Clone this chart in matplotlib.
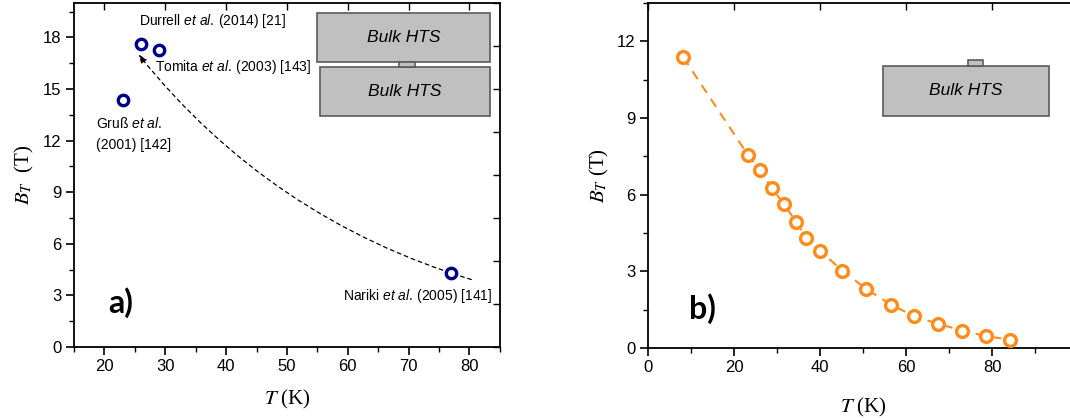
import matplotlib
matplotlib.use("Agg")
import matplotlib.pyplot as plt
from matplotlib.patches import Rectangle
from matplotlib.ticker import MultipleLocator, FixedLocator

plt.rcParams['font.family'] = ['Liberation Sans', 'DejaVu Sans']
plt.rcParams['mathtext.fontset'] = 'custom'
plt.rcParams['mathtext.rm'] = 'Liberation Sans'
plt.rcParams['mathtext.it'] = 'Liberation Sans:italic'

# panel a) record fields from the literature
a_T = [23, 26, 29, 77]
a_B = [14.35, 17.6, 17.25, 4.3]
a_labels = [
    ('Gruß $\\mathit{et\\ al.}$', 18.6, 13.0),
    ('(2001) [142]', 18.6, 11.72),
    ('Durrell $\\mathit{et\\ al.}\\,$(2014) [21]', 25.7, 18.97),
    ('Tomita $\\mathit{et\\ al.}\\,$(2003) [143]', 28.3, 16.3),
    ('Nariki $\\mathit{et\\ al.}\\,$(2005) [141]', 59.2, 2.97),
]
# trend arrow from -> to
arrow_from = (80.3, 3.92)
arrow_to = (25.6, 17.0)

# panel b) trapped field vs temperature
b_T = [8.2, 23.3, 26.0, 28.8, 31.6, 34.4, 36.7, 40.0, 45.2, 50.8,
       56.6, 61.9, 67.4, 73.1, 78.7, 84.1]
b_B = [11.38, 7.54, 6.96, 6.27, 5.63, 4.95, 4.32, 3.80, 3.03, 2.30,
       1.69, 1.24, 0.95, 0.68, 0.46, 0.33]
b_xticks = [0, 20, 40, 60, 80]

navy = '#00008b'
orange = '#ff8c1a'
box_face = '#c0c0c0'
box_edge = '#5a5a5a'

fig = plt.figure(figsize=(10.7, 4.18), dpi=100)
ax1 = fig.add_axes([0.0692, 0.170, 0.398, 0.823])
ax2 = fig.add_axes([0.6056, 0.1675, 0.4019, 0.825])


def style_axes(ax, xmaj, xmin, ymaj, ymin):
    for sp in ax.spines.values():
        sp.set_linewidth(1.3)
    ax.xaxis.set_major_locator(MultipleLocator(xmaj))
    ax.xaxis.set_minor_locator(MultipleLocator(xmin))
    ax.yaxis.set_major_locator(MultipleLocator(ymaj))
    ax.yaxis.set_minor_locator(MultipleLocator(ymin))
    ax.tick_params(which='major', direction='out', length=6, width=1.2,
                   labelsize=12, pad=3)
    ax.tick_params(which='minor', direction='out', length=3.5, width=1.0)
    # mirrored ticks on top/right, pointing in
    for sec in (ax.secondary_xaxis('top'), ax.secondary_yaxis('right')):
        sec.tick_params(which='major', direction='in', length=5, width=1.0,
                        labelleft=False, labelright=False,
                        labeltop=False, labelbottom=False)
        sec.tick_params(which='minor', direction='in', length=3, width=0.8)
        sec.spines[:].set_visible(False)


def add_box(ax, x0, y0, x1, y1, text=None):
    ax.add_patch(Rectangle((x0, y0), x1 - x0, y1 - y0, transform=ax.transAxes,
                           facecolor=box_face, edgecolor=box_edge, lw=1.2,
                           zorder=3))
    if text:
        ax.text((x0 + x1) / 2, (y0 + y1) / 2, text, transform=ax.transAxes,
                ha='center', va='center', fontsize=12.5, style='italic',
                zorder=4)


# ---- panel a)
ax1.set_xlim(15, 85)
ax1.set_ylim(0, 20)
style_axes(ax1, 10, 5, 3, 1.5)
ax1.plot(a_T, a_B, 'o', ls='none', mfc='white', mec=navy, mew=2.4,
         ms=7.5, zorder=5)
ax1.annotate('', xy=arrow_to, xytext=arrow_from,
             arrowprops=dict(arrowstyle='-|>,head_length=0.5,head_width=0.2',
                             ls=(0, (3, 3)), lw=0.9, color='black',
                             connectionstyle='arc3,rad=-0.155',
                             shrinkA=0, shrinkB=0))
for txt, x, y in a_labels:
    ax1.text(x, y, txt, fontsize=10, ha='left', va='center')
ax1.text(20.6, 2.6, 'a)', fontsize=23, fontweight='bold', family='Lato',
         ha='left', va='center')
add_box(ax1, 0.570, 0.829, 0.977, 0.972, 'Bulk HTS')
add_box(ax1, 0.577, 0.672, 0.977, 0.815, 'Bulk HTS')
add_box(ax1, 0.763, 0.815, 0.800, 0.829)
ax1.set_xlabel('$T$ (K)', fontsize=15, family='Liberation Serif',
               math_fontfamily='stix', labelpad=10)
ax1.set_ylabel('$B_T$  (T)', fontsize=15, family='Liberation Serif',
               math_fontfamily='stix', labelpad=5)

# ---- panel b)
ax2.set_xlim(0, 100)
ax2.set_ylim(0, 13.5)
style_axes(ax2, 20, 10, 3, 1.5)
ax2.xaxis.set_major_locator(FixedLocator(b_xticks))
ax2.plot(b_T, b_B, 'o', ls=(0, (4.5, 3.5)), lw=1.5, color=orange,
         mfc='white', mec=orange, mew=2.4, ms=8.5, zorder=5)
ax2.text(9.5, 1.56, 'b)', fontsize=23, fontweight='bold', family='Lato',
         ha='left', va='center')
add_box(ax2, 0.547, 0.673, 0.933, 0.818, 'Bulk HTS')
add_box(ax2, 0.744, 0.818, 0.778, 0.834)
ax2.set_xlabel('$T$ (K)', fontsize=15, family='Liberation Serif',
               math_fontfamily='stix', labelpad=15)
ax2.set_ylabel('$B_T$ (T)', fontsize=15, family='Liberation Serif',
               math_fontfamily='stix', labelpad=4)

fig.savefig('out.png', dpi=100)
